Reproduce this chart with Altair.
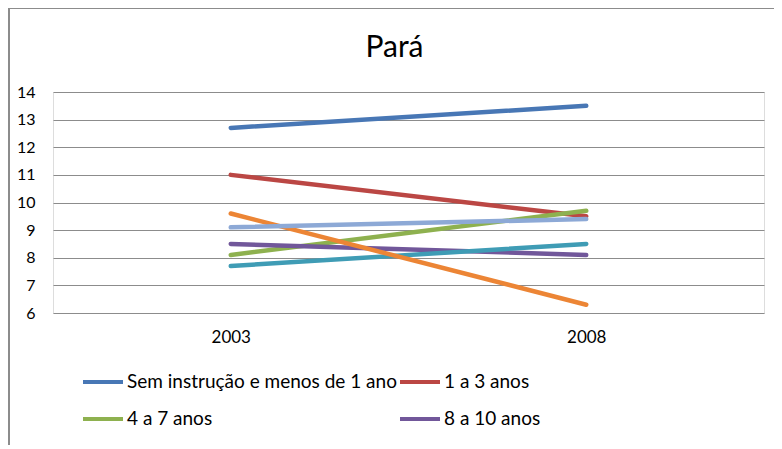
import altair as alt
import pandas as pd

title_text = ["Pará"]
years = ["2003", "2008"]
series = [
    "Sem instrução e menos de 1 ano",
    "1 a 3 anos",
    "4 a 7 anos",
    "8 a 10 anos",
    "11 a 14 anos",
    "15 anos ou mais",
    "Não determinados",
]
v2003 = [12.7, 11.0, 8.1, 8.5, 7.7, 9.6, 9.1]
v2008 = [13.5, 9.5, 9.7, 8.1, 8.5, 6.3, 9.4]
colors = ["#4877B5", "#BB4744", "#8EB14F", "#71579A", "#3F9CB5", "#EC8535", "#8DA9D6"]
y_ticks = [6, 7, 8, 9, 10, 11, 12, 13, 14]
legend_shown = series[:4]

rows = []
for s, a, b in zip(series, v2003, v2008):
    rows.append({"serie": s, "ano": years[0], "valor": a})
    rows.append({"serie": s, "ano": years[1], "valor": b})
df = pd.DataFrame(rows)

FONT = "Lato"
W, H = 711, 221

lines = alt.Chart(df).mark_line(strokeWidth=4.5, strokeCap="round").encode(
    x=alt.X("ano:N", sort=years, title=None,
            scale=alt.Scale(paddingInner=0, paddingOuter=0.5),
            axis=alt.Axis(labelAngle=0, domain=False, ticks=False, grid=False,
                          labelFontSize=17, labelFont=FONT, labelColor="#000",
                          labelPadding=16)),
    y=alt.Y("valor:Q", title=None,
            scale=alt.Scale(domain=[6, 14], nice=False, zero=False),
            axis=alt.Axis(values=y_ticks, domain=False, ticks=False, grid=True,
                          gridColor="#8c8c8c", gridWidth=1.2,
                          labelFontSize=16, labelFont=FONT, labelColor="#000",
                          labelPadding=18)),
    color=alt.Color("serie:N", sort=series,
                    scale=alt.Scale(domain=series, range=colors),
                    legend=alt.Legend(values=legend_shown, title=None, orient="none",
                                      legendX=28, legendY=268, columns=2,
                                      direction="horizontal",
                                      symbolType="stroke", symbolSize=1600,
                                      symbolStrokeWidth=4, labelFontSize=19,
                                      labelFont=FONT, labelColor="#000",
                                      labelOffset=2, columnPadding=-5,
                                      rowPadding=5, labelLimit=400)),
    detail="serie:N",
)

title = alt.Chart(pd.DataFrame({"t": title_text})).mark_text(
    fontSize=30, font=FONT, color="#000", align="center", baseline="alphabetic"
).encode(text="t:N", x=alt.value(W / 2 - 14), y=alt.value(-35))

frame_top = alt.Chart(pd.DataFrame({"k": [0]})).mark_rule(color="#8c8c8c", strokeWidth=2).encode(
    x=alt.value(-45), x2=alt.value(W + 20), y=alt.value(-84), y2=alt.value(-84))
frame_left = alt.Chart(pd.DataFrame({"k": [0]})).mark_rule(color="#8c8c8c", strokeWidth=2).encode(
    x=alt.value(-44), x2=alt.value(-44), y=alt.value(-85), y2=alt.value(H + 140))

chart = alt.layer(frame_top, frame_left, title, lines).properties(
    width=W, height=H,
    autosize=alt.AutoSizeParams(type="none"),
    padding={"left": 45, "top": 84, "right": 10, "bottom": 132},
).configure_view(stroke=None).configure(background="white")

chart.save("out.html", embed_options={"renderer": "svg", "actions": False})
